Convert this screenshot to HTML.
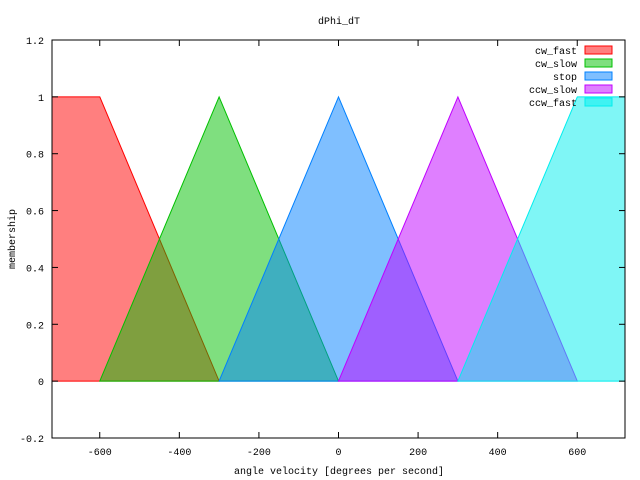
<!DOCTYPE html>
<html><head><meta charset="utf-8"><style>
html,body{margin:0;padding:0;background:#fff;}
svg{display:block;font-family:"Liberation Mono",monospace;font-size:10px;}
</style></head><body>
<svg id="chart" width="640" height="480">
</svg>
<script>
const seriesNames = ["cw_fast","cw_slow","stop","ccw_slow","ccw_fast"];
const seriesColors = ["#ff0000","#00c000","#0080ff","#c000ff","#00eeee"];
const seriesX = [[-720,-600,-300,-300,-720],[-600,-300,0,0,-600],[-300,0,300,300,-300],[0,300,600,600,0],[300,600,720,720,300]];
const seriesY = [[1,1,0,0,0],[0,1,0,0,0],[0,1,0,0,0],[0,1,0,0,0],[0,1,1,0,0]];
const xTicks = [-600,-400,-200,0,200,400,600];
const yTicks = [-0.2,0,0.2,0.4,0.6,0.8,1,1.2];
const yTickLabels = ["-0.2","0","0.2","0.4","0.6","0.8","1","1.2"];

const L=52,R=625,T=40,B=438;
const xMin=-720,xMax=720,yMin=-0.2,yMax=1.2;
const sx=v=>L+(v-xMin)/(xMax-xMin)*(R-L);
const sy=v=>B-(v-yMin)/(yMax-yMin)*(B-T);
const svg=document.getElementById('chart');
const NS="http://www.w3.org/2000/svg";
function mk(tag,attrs,parent){const e=document.createElementNS(NS,tag);for(const k in attrs)e.setAttribute(k,attrs[k]);(parent||svg).appendChild(e);return e;}

// series
seriesNames.forEach((n,i)=>{
  const pts=seriesX[i].map((x,j)=>sx(x).toFixed(1)+","+sy(seriesY[i][j]).toFixed(1)).join(" ");
  const p=mk('polygon',{points:pts,fill:seriesColors[i],'fill-opacity':0.5,stroke:seriesColors[i],'stroke-width':1});
  
  
});

// axes frame
const fr=mk('rect',{x:L,y:T,width:R-L,height:B-T,fill:'none',stroke:'#000','stroke-width':1});



xTicks.forEach(v=>{
  const x=sx(v);
  mk('line',{x1:x,y1:B,x2:x,y2:B-6,stroke:'#000'});
  mk('line',{x1:x,y1:T,x2:x,y2:T+6,stroke:'#000'});
  const t=mk('text',{x:x,y:B+17,'text-anchor':'middle'});
  t.textContent=String(v);
  
  
});
yTicks.forEach((v,i)=>{
  const y=sy(v);
  mk('line',{x1:L,y1:y,x2:L+6,y2:y,stroke:'#000'});
  mk('line',{x1:R,y1:y,x2:R-6,y2:y,stroke:'#000'});
  const t=mk('text',{x:44,y:y+4,'text-anchor':'end'});
  t.textContent=yTickLabels[i];
  
  
});

const title=mk('text',{x:339,y:24,'text-anchor':'middle'});
title.textContent="dPhi_dT";


const xl=mk('text',{x:339,y:474,'text-anchor':'middle'});
xl.textContent="angle velocity [degrees per second]";


const yl=mk('text',{x:15,y:239,'text-anchor':'middle',transform:'rotate(-90 15 239)'});
yl.textContent="membership";



// legend
seriesNames.forEach((n,i)=>{
  const y=50+i*13;
  const t=mk('text',{x:577,y:y+4,'text-anchor':'end'});
  t.textContent=n;
  
  
  const r=mk('rect',{x:585,y:y-4,width:27,height:8,fill:seriesColors[i],'fill-opacity':0.5,stroke:seriesColors[i]});
  
  
});
</script>
</body></html>
